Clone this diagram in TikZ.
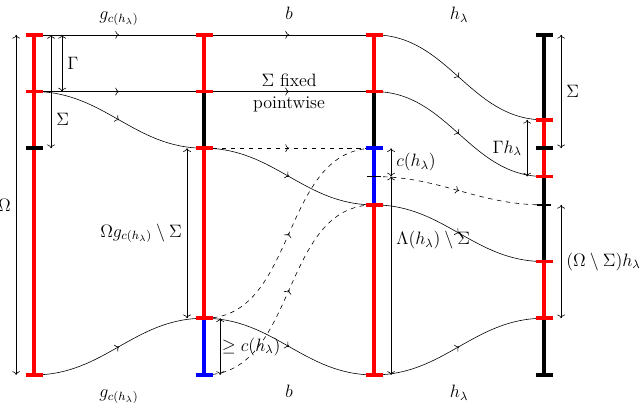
\documentclass[tikz,border=0pt]{standalone}
\usepackage{amsmath, amssymb}
\usepackage{tikz}
\usetikzlibrary{arrows.meta, decorations.markings}

\tikzset{
  flow/.style={postaction={decorate},
    decoration={markings, mark=at position 0.5 with {\arrow{>}}}},
  dim/.style={<->},
  seg/.style={line width=2.5pt},
}
\newcommand{\cutmark}[2]{\draw[seg, #2] ([xshift=-2mm]#1) -- ([xshift=2mm]#1);}
\newcommand{\thinmark}[1]{\draw[line width=1pt] ([xshift=-1.6mm]#1) -- ([xshift=1.6mm]#1);}

\begin{document}
\begin{tikzpicture}[>=To, font=\large]
  \useasboundingbox (-0.8,-0.73) rectangle (14.35,8.82);

  % points on the four copies
  \foreach \i in {1,...,4}
    \foreach \k in {0,...,12}
      \coordinate (c\i-\k) at ({4*(\i-1)},{\k*2/3});

  % Maps between the copies
  \draw[flow] (c1-12) -- (c2-12);
  \draw[flow] (c2-12) -- (c3-12);
  \draw[flow] (c3-12) to[out=0,in=180] (c4-9);
  \draw[flow] (c1-10) -- (c2-10);
  \draw[flow] (c2-10) -- (c3-10)
    node[midway, above] {$\Sigma$ fixed}
    node[midway, below] {pointwise};
  \draw[flow] (c3-10) to[out=0,in=180] (c4-7);
  \draw[flow] (c1-10) to[out=0,in=180] (c2-8);
  \draw[flow] (c2-8) to[out=0,in=180] (c3-6);
  \draw[flow] (c3-6) to[out=0,in=180] (c4-4);
  \draw[flow] (c1-0) to[out=0,in=180] (c2-2);
  \draw[flow] (c2-2) to[out=0,in=180] (c3-0);
  \draw[flow] (c3-0) to[out=0,in=180] (c4-2);

  % Dashed maps
  \draw[flow, dashed] (c2-8) -- (c3-8);
  \draw[flow, dashed] (c3-7) to[out=0,in=180] (c4-6);
  \draw[flow, dashed] (c2-2) to[out=0,in=180] (c3-8);
  \draw[flow, dashed] (c2-0) to[out=0,in=180] (c3-6);

  % Map names
  \node[anchor=base] (gtop) at (2,8.36) {$g_{c(h_\lambda)}$};
  \node[anchor=base] (btop) at (6,8.36) {$b$};
  \node[anchor=base] (htop) at (10,8.36) {$h_\lambda$};
  \node[anchor=base] (gbot) at (2,-0.54) {$g_{c(h_\lambda)}$};
  \node[anchor=base] (bbot) at (6,-0.54) {$b$};
  \node[anchor=base] (hbot) at (10,-0.54) {$h_\lambda$};

  % First copy
  \draw[seg, red] (c1-0) -- (c1-12);
  \cutmark{c1-12}{red} \cutmark{c1-10}{red}
  \cutmark{c1-8}{black} \cutmark{c1-0}{red}

  % Second copy
  \draw[seg, red] (c2-12) -- (c2-10);
  \draw[seg, black] (c2-10) -- (c2-8);
  \draw[seg, red] (c2-8) -- (c2-2);
  \draw[seg, blue] (c2-2) -- (c2-0);
  \cutmark{c2-12}{red} \cutmark{c2-10}{red}
  \cutmark{c2-8}{red} \cutmark{c2-2}{red} \cutmark{c2-0}{blue}

  % Third copy
  \draw[seg, red] (c3-12) -- (c3-10);
  \draw[seg, black] (c3-10) -- (c3-8);
  \draw[seg, blue] (c3-8) -- (c3-6);
  \draw[seg, red] (c3-6) -- (c3-0);
  \cutmark{c3-12}{red} \cutmark{c3-10}{red} \cutmark{c3-8}{blue}
  \thinmark{c3-7}
  \cutmark{c3-6}{red} \cutmark{c3-0}{red}

  % Fourth copy
  \draw[seg, black] (c4-12) -- (c4-9);
  \draw[seg, red] (c4-9) -- (c4-7);
  \draw[seg, black] (c4-7) -- (c4-4);
  \draw[seg, red] (c4-4) -- (c4-2);
  \draw[seg, black] (c4-2) -- (c4-0);
  \cutmark{c4-12}{black} \cutmark{c4-9}{red} \cutmark{c4-8}{black}
  \cutmark{c4-7}{red} \thinmark{c4-6}
  \cutmark{c4-4}{red} \cutmark{c4-2}{red} \cutmark{c4-0}{black}

  % Sizes
  \draw[dim] ([xshift=-4.2mm]c1-12) -- ([xshift=-4.2mm]c1-0)
    node[midway, left] {$\Omega$};
  \draw[dim] ([xshift=4mm]c1-12) -- ([xshift=4mm]c1-8)
    node[pos=0.75, right] {$\Sigma$};
  \draw[dim] ([xshift=6.6mm]c1-12) -- ([xshift=6.6mm]c1-10)
    node[midway, right] {$\Gamma$};
  \draw[dim] ([xshift=-4mm]c2-8) -- ([xshift=-4mm]c2-2)
    node[midway, left] {$\Omega g_{c(h_\lambda)}\setminus\Sigma$};
  \draw[dim] ([xshift=3.8mm]c2-2) -- ([xshift=3.8mm]c2-0)
    node[midway, right, inner sep=1pt] {$\geq c(h_\lambda)$};
  \draw[dim] ([xshift=4mm]c3-8) -- ([xshift=4mm]c3-7)
    node[midway, right] {$c(h_\lambda)$};
  \draw[dim] ([xshift=4mm]c3-7) -- ([xshift=4mm]c3-0)
    node[pos=0.32, right] {$\Lambda(h_\lambda)\setminus\Sigma$};
  \draw[dim] ([xshift=4mm]c4-12) -- ([xshift=4mm]c4-8)
    node[midway, right] {$\Sigma$};
  \draw[dim] ([xshift=-4mm]c4-9) -- ([xshift=-4mm]c4-7)
    node[midway, left] {$\Gamma h_\lambda$};
  \draw[dim] ([xshift=4mm]c4-6) -- ([xshift=4mm]c4-2)
    node[midway, right] {$(\Omega\setminus\Sigma)h_\lambda$};
\end{tikzpicture}
\end{document}
